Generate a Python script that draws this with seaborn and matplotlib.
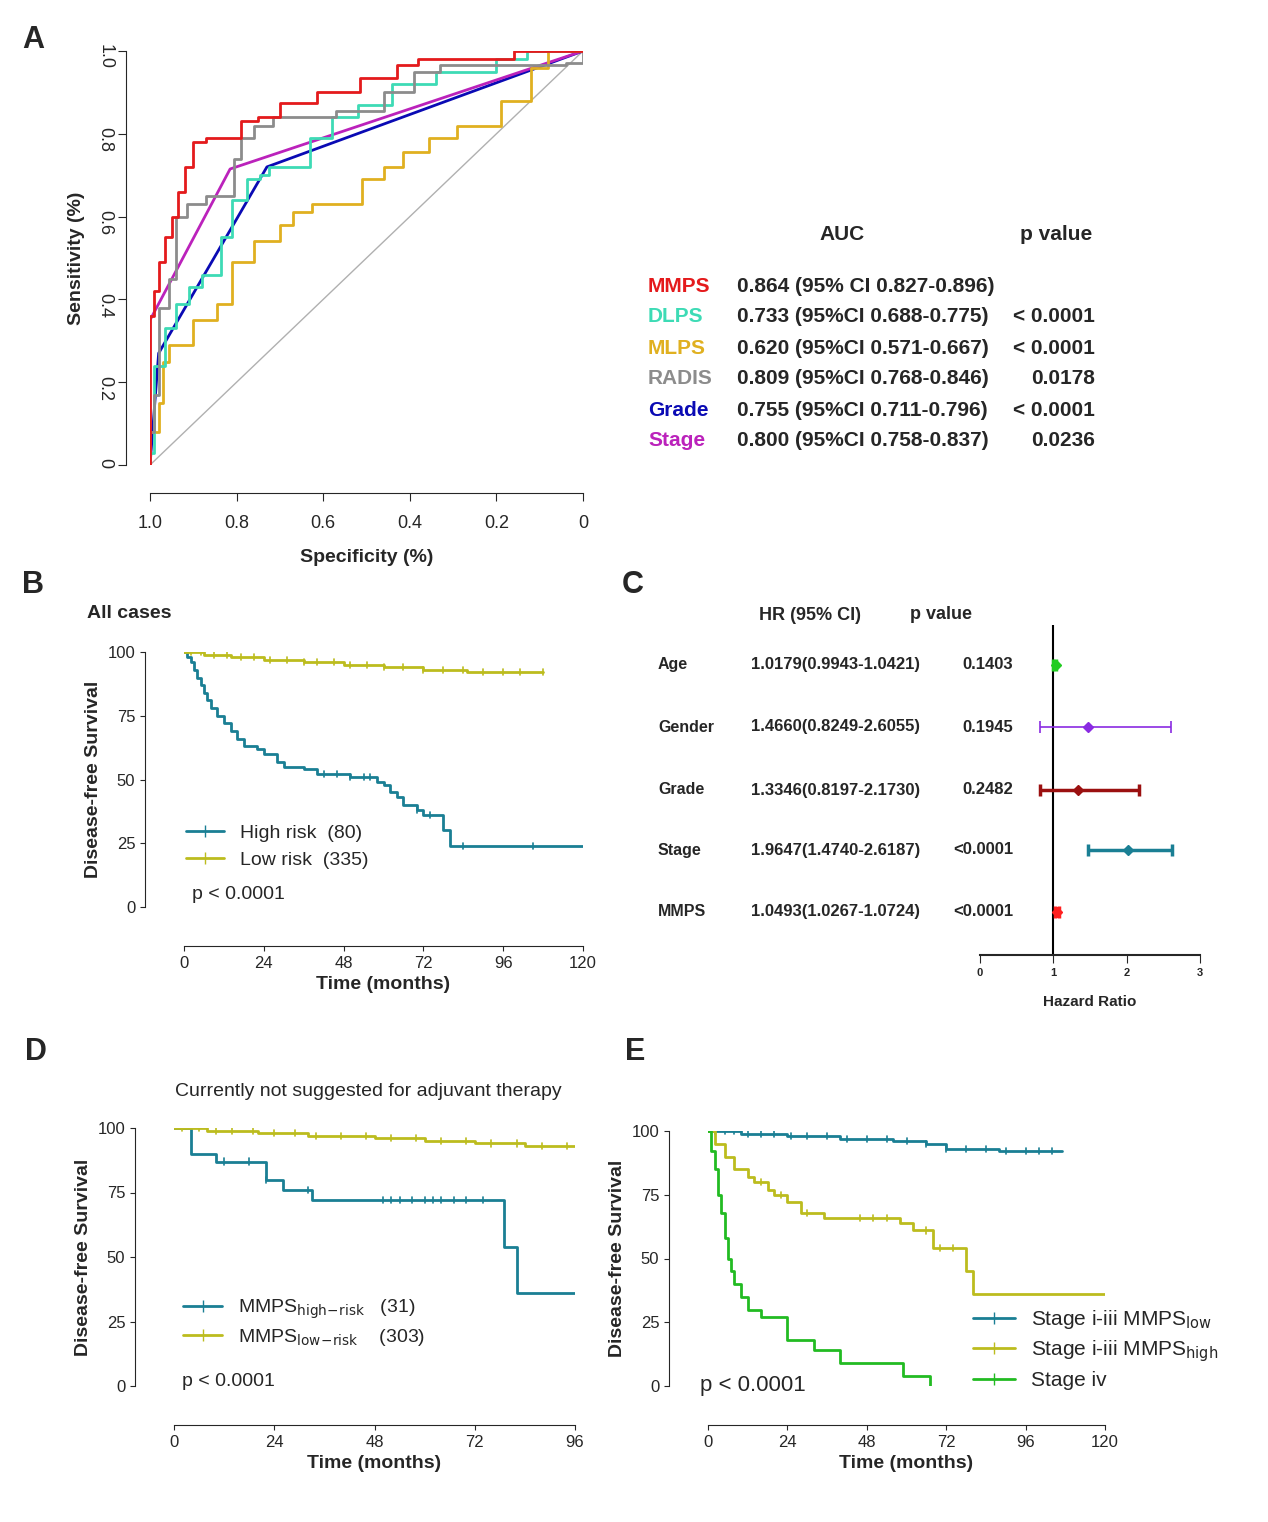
import matplotlib
matplotlib.use("Agg")
import matplotlib.pyplot as plt
import seaborn as sns

sns.set_style("ticks")
plt.rcParams["font.family"] = ["Liberation Sans", "DejaVu Sans"]

W, H = 1268, 1522

# ---- panel A: ROC curves (1 - specificity, sensitivity) ----
mmps_fpr = [0, 0, 0.01, 0.02, 0.035, 0.05, 0.065, 0.08, 0.1, 0.13, 0.21, 0.25, 0.30, 0.385, 0.485, 0.57, 0.62, 0.84, 0.87, 1.0]
mmps_tpr = [0, 0.25, 0.36, 0.42, 0.49, 0.55, 0.60, 0.66, 0.72, 0.78, 0.79, 0.83, 0.84, 0.875, 0.90, 0.935, 0.965, 0.98, 1.0, 1.0]
radis_fpr = [0, 0.01, 0.02, 0.045, 0.06, 0.085, 0.13, 0.195, 0.21, 0.24, 0.285, 0.43, 0.54, 0.61, 0.67, 0.96, 1.0, 1.0]
radis_tpr = [0, 0.08, 0.17, 0.38, 0.45, 0.60, 0.63, 0.65, 0.74, 0.79, 0.82, 0.84, 0.855, 0.90, 0.95, 0.965, 0.97, 1.0]
dlps_fpr = [0, 0.01, 0.035, 0.06, 0.09, 0.12, 0.165, 0.19, 0.225, 0.255, 0.275, 0.37, 0.42, 0.48, 0.56, 0.66, 0.80, 0.87, 1.0]
dlps_tpr = [0, 0.03, 0.24, 0.33, 0.39, 0.43, 0.46, 0.55, 0.64, 0.69, 0.70, 0.72, 0.79, 0.84, 0.87, 0.92, 0.95, 0.98, 1.0]
mlps_fpr = [0, 0.02, 0.03, 0.045, 0.10, 0.155, 0.19, 0.24, 0.30, 0.33, 0.375, 0.49, 0.54, 0.585, 0.645, 0.71, 0.81, 0.88, 0.92, 1.0]
mlps_tpr = [0, 0.08, 0.15, 0.25, 0.29, 0.35, 0.39, 0.49, 0.54, 0.58, 0.61, 0.63, 0.69, 0.72, 0.755, 0.79, 0.82, 0.88, 0.96, 1.0]
grade_fpr = [0, 0.02, 0.27, 1.0]
grade_tpr = [0, 0.27, 0.72, 1.0]
stage_fpr = [0, 0, 0.185, 1.0]
stage_tpr = [0, 0.35, 0.715, 1.0]

roc_names = ["MMPS", "DLPS", "MLPS", "RADIS", "Grade", "Stage"]
roc_colors = ["#e41a1c", "#3ddbb5", "#e0b020", "#8c8c8c", "#0a0ab4", "#bb22bb"]
roc_auc = ["0.864 (95% CI 0.827-0.896)", "0.733 (95%CI 0.688-0.775)", "0.620 (95%CI 0.571-0.667)",
           "0.809 (95%CI 0.768-0.846)", "0.755 (95%CI 0.711-0.796)", "0.800 (95%CI 0.758-0.837)"]
roc_p = ["", "< 0.0001", "< 0.0001", "0.0178", "< 0.0001", "0.0236"]

# ---- panel B ----
b_high_t = [0, 1, 2, 3, 4, 5, 6, 7, 8, 10, 12, 14, 16, 18, 22, 24, 28, 30, 36, 40, 50, 58, 60, 62, 64, 66, 70, 72, 78, 80, 120]
b_high_s = [100, 98, 96, 93, 90, 87, 84, 81, 78, 75, 72, 69, 66, 63, 62, 60, 57, 55, 54, 52, 51, 49, 48, 45, 43, 40, 38, 36, 30, 24, 24]
b_low_t = [0, 6, 14, 24, 36, 48, 60, 72, 85, 108]
b_low_s = [100, 99, 98, 97, 96, 95, 94, 93, 92, 92]
b_high_c = [42, 46, 50, 54, 56, 70, 74, 84, 105]
b_low_c = [2, 5, 9, 13, 17, 21, 26, 31, 36, 40, 45, 50, 55, 60, 66, 72, 78, 84, 90, 96, 101, 108]

# ---- panel C: forest plot ----
hr_vars = ["Age", "Gender", "Grade", "Stage", "MMPS"]
hr_est = [1.0179, 1.4660, 1.3346, 1.9647, 1.0493]
hr_lo = [0.9943, 0.8249, 0.8197, 1.4740, 1.0267]
hr_hi = [1.0421, 2.6055, 2.1730, 2.6187, 1.0724]
hr_pt = [1.03, 1.47, 1.34, 2.02, 1.05]
hr_txt = ["1.0179(0.9943-1.0421)", "1.4660(0.8249-2.6055)", "1.3346(0.8197-2.1730)",
          "1.9647(1.4740-2.6187)", "1.0493(1.0267-1.0724)"]
hr_p = ["0.1403", "0.1945", "0.2482", "<0.0001", "<0.0001"]
hr_colors = ["#22cc22", "#8a2be2", "#9b1010", "#1a7f94", "#ff2020"]
hr_y_px = [665, 727, 790, 850, 912]

# ---- panel D ----
d_high_t = [0, 4, 10, 22, 26, 33, 79, 82, 96]
d_high_s = [100, 90, 87, 80, 76, 72, 54, 36, 36]
d_low_t = [0, 8, 20, 32, 48, 60, 72, 84, 96]
d_low_s = [100, 99, 98, 97, 96, 95, 94, 93, 93]
d_high_c = [12, 18, 22, 32, 50, 52, 54, 57, 60, 62, 64, 67, 70, 74]
d_low_c = [2, 6, 10, 14, 19, 24, 29, 34, 40, 46, 52, 58, 64, 70, 76, 82, 88, 94]

# ---- panel E ----
e_low_t = [0, 10, 24, 40, 56, 66, 72, 88, 107]
e_low_s = [100, 99, 98, 97, 96, 95, 93, 92, 92]
e_high_t = [0, 2, 5, 8, 12, 14, 18, 20, 24, 28, 35, 58, 62, 68, 78, 80, 120]
e_high_s = [100, 95, 90, 85, 82, 80, 77, 75, 72, 68, 66, 64, 61, 54, 45, 36, 36]
e_iv_t = [0, 1, 2, 3, 4, 5, 6, 7, 8, 10, 12, 16, 24, 32, 40, 59, 67]
e_iv_s = [100, 92, 85, 75, 68, 58, 50, 45, 40, 35, 30, 27, 18, 14, 9, 4, 0]
e_low_c = [2, 5, 8, 12, 16, 20, 25, 30, 36, 42, 48, 54, 60, 66, 72, 78, 84, 90, 96, 100, 104]
e_high_c = [16, 22, 30, 46, 50, 54, 66, 70, 74]

TEAL = "#1a7f94"
OLIVE = "#bcbc1e"
GREEN = "#22bb22"

fig = plt.figure(figsize=(W / 100, H / 100), dpi=100)


def px_axes(x0, x1, y_top, y_bot):
    return fig.add_axes([x0 / W, 1 - y_bot / H, (x1 - x0) / W, (y_bot - y_top) / H])


def ftext(x, y, s, **kw):
    kw.setdefault("fontsize", 13)
    kw.setdefault("va", "center")
    fig.text(x / W, 1 - y / H, s, **kw)


def km(ax, t, s, ct, color):
    ax.plot(t, s, drawstyle="steps-post", color=color, lw=2)
    # censor ticks, y read from step function
    for c in ct:
        yv = s[0]
        for ti, si in zip(t, s):
            if ti <= c:
                yv = si
        ax.plot([c, c], [yv - 1.2, yv + 1.2], color=color, lw=1.2)


def km_style(ax, xmax, step, offset):
    ax.set_ylim(0, 100)
    ax.set_xlim(0, xmax)
    ax.set_yticks([0, 25, 50, 75, 100])
    ax.set_xticks(range(0, xmax + 1, step))
    ax.tick_params(labelsize=12)
    sns.despine(ax=ax, offset=offset)
    ax.set_ylabel("Disease-free Survival", fontsize=14, fontweight="bold")
    ax.set_xlabel("Time (months)", fontsize=14, fontweight="bold")


# ---- A ----
axA = px_axes(150, 583, 51, 465)
axA.plot([1, 0], [0, 1], color="#b0b0b0", lw=1)
curves = [(mmps_fpr, mmps_tpr, True), (dlps_fpr, dlps_tpr, True), (mlps_fpr, mlps_tpr, True),
          (radis_fpr, radis_tpr, True), (grade_fpr, grade_tpr, False), (stage_fpr, stage_tpr, False)]
order = [4, 5, 2, 1, 3, 0]
for i in order:
    fx, fy, st = curves[i]
    spec = [1 - v for v in fx]
    axA.plot(spec, fy, color=roc_colors[i], lw=2, drawstyle="steps-pre" if st else "default")
axA.set_xlim(1, 0)
axA.set_ylim(0, 1)
axA.set_xticks([1.0, 0.8, 0.6, 0.4, 0.2, 0])
axA.set_xticklabels(["1.0", "0.8", "0.6", "0.4", "0.2", "0"])
axA.set_yticks([0, 0.2, 0.4, 0.6, 0.8, 1.0])
axA.set_yticklabels(["0", "0.2", "0.4", "0.6", "0.8", "1.0"])
axA.tick_params(labelsize=13, length=6)
axA.tick_params(axis="y", labelrotation=-90)
for lab in axA.get_yticklabels():
    lab.set_va("center")
for lab in axA.get_xticklabels() + axA.get_yticklabels():
    lab.set_fontweight("bold")
sns.despine(ax=axA)
axA.spines["left"].set_position(("outward", 17))
axA.spines["bottom"].set_position(("outward", 20))
axA.tick_params(axis="x", pad=10)
axA.set_xlabel("Specificity (%)", fontsize=14, fontweight="bold", labelpad=12)
axA.set_ylabel("Sensitivity (%)", fontsize=14, fontweight="bold", labelpad=8)

ftext(842, 234, "AUC", ha="center", fontsize=15, fontweight="bold")
ftext(1056, 234, "p value", ha="center", fontsize=15, fontweight="bold")
for i, name in enumerate(roc_names):
    y = 286 + i * 31
    ftext(648, y, name, color=roc_colors[i], fontsize=15, fontweight="bold")
    ftext(737, y, roc_auc[i], fontsize=15, fontweight="bold")
    ftext(1095, y, roc_p[i], ha="right", fontsize=15, fontweight="bold")

# ---- B ----
axB = px_axes(184, 583, 652, 907)
km(axB, b_high_t, b_high_s, b_high_c, TEAL)
km(axB, b_low_t, b_low_s, b_low_c, OLIVE)
km_style(axB, 120, 24, 28)
axB.plot([], [], color=TEAL, lw=2, marker="|", ms=8, label="High risk  (80)")
axB.plot([], [], color=OLIVE, lw=2, marker="|", ms=8, label="Low risk  (335)")
axB.legend(loc="lower left", bbox_to_anchor=(-0.04, 0.08), frameon=False, fontsize=14, handlelength=2)
axB.text(0.02, 0.03, "p < 0.0001", transform=axB.transAxes, fontsize=14)
ftext(87, 613, "All cases", fontsize=14, fontweight="bold")

# ---- C ----
axC = px_axes(980, 1200, 625, 955)
axC.axvline(1, color="black", lw=1.5)
for i in range(5):
    yv = H - hr_y_px[i]
    lw = 1.2 if i == 1 else 2.5
    axC.errorbar(hr_pt[i], yv, xerr=[[hr_pt[i] - hr_lo[i]], [hr_hi[i] - hr_pt[i]]], fmt="D",
                 color=hr_colors[i], ms=5, lw=lw, capsize=4, capthick=lw)
axC.set_xlim(0, 3)
axC.set_ylim(H - 955, H - 625)
axC.set_yticks([])
axC.set_xticks([0, 1, 2, 3])
axC.tick_params(labelsize=8, length=6)
for lab in axC.get_xticklabels():
    lab.set_fontweight("bold")
sns.despine(ax=axC, left=True)
axC.spines["bottom"].set_linewidth(1.5)
axC.set_xlabel("Hazard Ratio", fontsize=11, fontweight="bold", labelpad=12)
ftext(810, 616, "HR (95% CI)", ha="center", fontsize=13, fontweight="bold")
ftext(941, 615, "p value", ha="center", fontsize=13, fontweight="bold")
for i in range(5):
    ftext(658, hr_y_px[i], hr_vars[i], fontsize=11.5, fontweight="bold")
    ftext(836, hr_y_px[i], hr_txt[i], ha="center", fontsize=12, fontweight="bold")
    ftext(1013, hr_y_px[i], hr_p[i], ha="right", fontsize=12, fontweight="bold")

# ---- D ----
axD = px_axes(174, 575, 1128, 1386)
km(axD, d_high_t, d_high_s, d_high_c, TEAL)
km(axD, d_low_t, d_low_s, d_low_c, OLIVE)
km_style(axD, 96, 24, 28)
axD.plot([], [], color=TEAL, lw=2, marker="|", ms=8, label=r"MMPS$_{\mathrm{high\!-\!risk}}$   (31)")
axD.plot([], [], color=OLIVE, lw=2, marker="|", ms=8, label=r"MMPS$_{\mathrm{low\!-\!risk}}$    (303)")
axD.legend(loc="lower left", bbox_to_anchor=(-0.02, 0.08), frameon=False, fontsize=14, handlelength=2,
           labelspacing=0.3)
axD.text(0.02, 0.0, "p < 0.0001", transform=axD.transAxes, fontsize=14)
ftext(368, 1091, "Currently not suggested for adjuvant therapy", ha="center", fontsize=14)

# ---- E ----
axE = px_axes(708, 1105, 1131, 1386)
km(axE, e_low_t, e_low_s, e_low_c, TEAL)
km(axE, e_high_t, e_high_s, e_high_c, OLIVE)
km(axE, e_iv_t, e_iv_s, [], GREEN)
km_style(axE, 120, 24, 28)
axE.plot([], [], color=TEAL, lw=2, marker="|", ms=8, label=r"Stage i-iii MMPS$_{\mathrm{low}}$")
axE.plot([], [], color=OLIVE, lw=2, marker="|", ms=8, label=r"Stage i-iii MMPS$_{\mathrm{high}}$")
axE.plot([], [], color=GREEN, lw=2, marker="|", ms=8, label="Stage iv")
axE.legend(loc="lower left", bbox_to_anchor=(0.62, -0.09), frameon=False, fontsize=15, handlelength=2,
           labelspacing=0.35)
axE.text(-0.02, -0.02, "p < 0.0001", transform=axE.transAxes, fontsize=16)

for lbl, x, y in [("A", 22, 40), ("B", 22, 585), ("C", 622, 585), ("D", 25, 1052), ("E", 625, 1052)]:
    ftext(x, y, lbl, fontsize=22, fontweight="bold")

fig.savefig("out.png", dpi=100)
